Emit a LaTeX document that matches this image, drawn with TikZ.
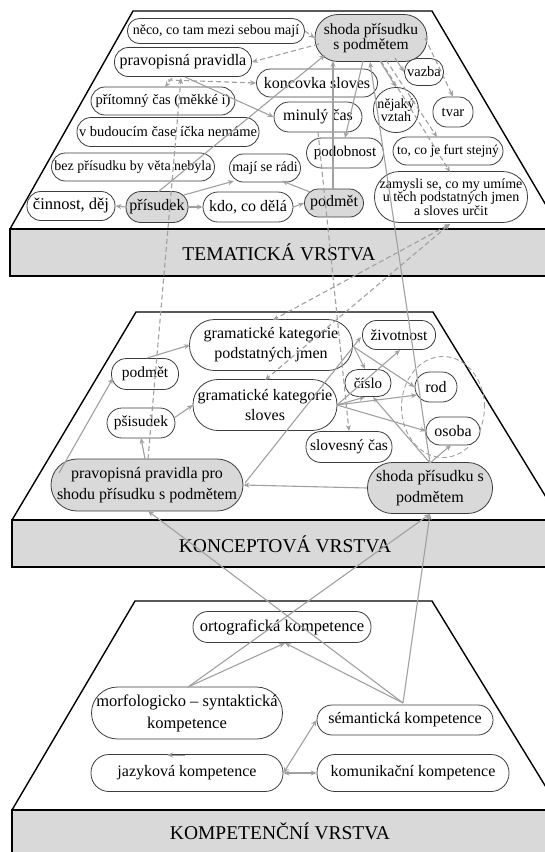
\documentclass[tikz,border=0pt]{standalone}
\usepackage{fontspec}
\setmainfont{Liberation Serif}
\usetikzlibrary{calc,arrows.meta,shapes.geometric}

\definecolor{edgegray}{RGB}{160,160,160}
\definecolor{bandgray}{RGB}{217,217,217}
\definecolor{nodeline}{RGB}{60,60,60}

\newcommand{\fs}[2]{\fontsize{#1}{#2}\selectfont}

\tikzset{
  concept/.style n args={3}{draw=nodeline, line width=0.8pt, fill=white, inner sep=0pt,
    align=center, minimum width=#1pt, minimum height=#2pt, rounded corners=#3pt},
  keyconcept/.style n args={3}{concept={#1}{#2}{#3}, fill=bandgray},
  link/.style={draw=edgegray, line width=1.1pt, -{Stealth[length=6pt,width=5pt]}},
  dlink/.style={link, dash pattern=on 5pt off 3pt},
  layeredge/.style={draw=black, line width=1.4pt},
  band/.style={draw=black, line width=1.6pt, fill=bandgray},
  bandlabel/.style={font=\fs{19.5}{22}},
}

\begin{document}
\begin{tikzpicture}[x=1pt,y=-1pt]
\useasboundingbox (0,0) rectangle (545,852);

% ---------- layers ----------
\draw[layeredge] (10,229) -- (133,11) -- (432,11) -- (560,229);
\draw[band] (10,229) rectangle (600,276);
\node[bandlabel] (tema) at (279,252) {TEMATICKÁ VRSTVA};

\draw[layeredge] (12,520) -- (136,312) -- (433,312) -- (560,520);
\draw[band] (12,520) rectangle (600,567);
\node[bandlabel] (konc) at (285,544) {KONCEPTOVÁ VRSTVA};

\draw[layeredge] (12,810) -- (135,601) -- (432,601) -- (560,810);
\draw[band] (12,810) rectangle (600,900);
\node[bandlabel] (komp) at (280,831) {KOMPETENČNÍ VRSTVA};

% ---------- thematic layer ----------
\node[concept={177}{25}{12}, font=\fs{14}{15}] (neco) at (216,31) {něco, co tam mezi sebou mají};
\node[keyconcept={112}{47}{23}, font=\fs{15.5}{15}] (shT) at (371,38) {shoda přísudku\\s podmětem};
\node[concept={137}{29}{14}, font=\fs{16}{17}] (pravT) at (183,62) {pravopisná pravidla};
\node[concept={121}{28}{14}, font=\fs{16}{17}] (koncovka) at (317,83) {koncovka sloves};
\node[concept={39}{27}{13}, font=\fs{14.5}{15}] (vazba) at (424,72) {vazba};
\node[concept={45}{45}{22}, font=\fs{14}{13}] (nejaky) at (396,110) {nějaký\\vztah};
\node[concept={40}{30}{14}, font=\fs{14.5}{15}] (tvar) at (453,112) {tvar};
\node[concept={144}{28}{14}, font=\fs{14.5}{15}] (prit) at (163,101) {přítomný čas (měkké i)};
\node[concept={88}{30}{15}, font=\fs{16}{17}] (minuly) at (318,117) {minulý čas};
\node[concept={182}{29}{14}, font=\fs{14.5}{15}] (vbud) at (168,132) {v budoucím čase íčka nemáme};
\node[concept={77}{30}{15}, font=\fs{15}{16}] (podob) at (345,153) {podobnost};
\node[concept={110}{28}{14}, font=\fs{13.5}{14}] (tocoje) at (448,151) {to, co je furt stejný};
\node[concept={163}{28}{14}, font=\fs{14}{15}] (bez) at (133,167) {bez přísudku by věta nebyla};
\node[concept={71}{28}{14}, font=\fs{14}{15}] (maji) at (265,168) {mají se rádi};
\node[concept={153}{51}{25}, font=\fs{14}{13.5}] (zamysli) at (451,197) {zamysli se, co my umíme\\u těch podstatných jmen\\a sloves určit};
\node[concept={88}{29}{14}, font=\fs{16.5}{17}] (cinnost) at (71,206) {činnost, děj};
\node[keyconcept={62}{31}{15}, font=\fs{16}{17}] (prisT) at (157,207) {přísudek};
\node[concept={90}{30}{15}, font=\fs{16}{17}] (kdo) at (248,207) {kdo, co dělá};
\node[keyconcept={59}{28}{14}, font=\fs{16}{17}] (podmT) at (334,203) {podmět};

% ---------- conceptual layer ----------
\node[draw=edgegray, line width=0.9pt, dash pattern=on 5pt off 3pt, ellipse,
      minimum width=83pt, minimum height=101pt, inner sep=0pt] (grp) at (443,407) {};
\node[concept={163}{51}{25}, font=\fs{16}{20}] (gkPJ) at (271,345) {gramatické kategorie\\podstatných jmen};
\node[concept={73}{29}{14}, font=\fs{15.5}{16}] (zivot) at (399,335) {životnost};
\node[concept={67}{31}{15}, font=\fs{15.5}{16}] (podmM) at (145,374) {podmět};
\node[concept={144}{51}{25}, font=\fs{16}{20}] (gkS) at (265,405) {gramatické kategorie\\sloves};
\node[concept={46}{27}{13}, font=\fs{15}{16}] (cislo) at (368,383) {číslo};
\node[concept={42}{30}{15}, font=\fs{16}{17}] (rod) at (436,387) {rod};
\node[concept={68}{30}{15}, font=\fs{15.5}{16}] (psis) at (141,423) {pšisudek};
\node[concept={54}{28}{14}, font=\fs{16}{17}] (osoba) at (453,431) {osoba};
\node[concept={86}{31}{15}, font=\fs{15.5}{16}] (slov) at (349,447) {slovesný čas};
\node[keyconcept={192}{52}{26}, font=\fs{16}{21}] (pravM) at (147,485) {pravopisná pravidla pro\\shodu přísudku s podmětem};
\node[keyconcept={125}{51}{25}, font=\fs{16}{21}] (shM) at (430,488) {shoda přísudku s\\podmětem};

% ---------- competence layer ----------
\node[concept={178}{31}{15}, font=\fs{16.5}{17}] (orto) at (282,627) {ortografická kompetence};
\node[concept={191}{52}{26}, font=\fs{16.5}{22}] (morf) at (187,713) {morfologicko – syntaktická\\kompetence};
\node[concept={176}{30}{15}, font=\fs{16}{17}] (sem) at (405,720) {sémantická kompetence};
\node[concept={192}{37}{18}, font=\fs{16}{17}] (jaz) at (187,773) {jazyková kompetence};
\node[concept={192}{37}{18}, font=\fs{16}{17}] (kom) at (413,773) {komunikační kompetence};

% ---------- thematic links ----------
\draw[link] (prisT.west) -- (cinnost.east);
\draw[link] (prisT.east) -- (kdo.west);
\draw[link] ($(prisT)+(27,-12)$) -- ($(maji)+(-31,13)$);
\draw[link] ($(prisT)+(1,-15)$) -- ($(shT)+(-46,17)$);
\draw[link] (kdo.east) -- (podmT.west);
\draw[link] ($(podmT)+(-24,-11)$) -- ($(maji)+(17,13)$);
\draw[link] ($(podmT)+(-1,-14)$) -- ($(shT)+(-38,23)$);
\draw[link] ($(pravT)+(2,15)$) -- (minuly.west);
\draw[link] ($(shT)+(-8,23)$) -- ($(podob)+(0,-15)$);
\draw[link] ($(shT)+(24,20)$) -- (vazba.west);
\draw[link] ($(shT)+(9,23)$) -- (nejaky.north);

\draw[dlink] (neco.east) -- (shT.west);
\draw[dlink] ($(shT)+(-52,6)$) -- (pravT.east);
\draw[dlink] ($(pravT)+(-15,18)$) -- (koncovka.west);
\draw[dlink] ($(pravT)+(-11,16)$) -- ($(prit)+(2,-14)$);
\draw[dlink] ($(shT)+(54,0)$) -- (tvar.north);
\draw[dlink] ($(shT)+(15,22)$) -- ($(tocoje)+(-11,-14)$);
\draw[dlink] ($(shT)+(10,23)$) -- ($(zamysli)+(-1,-25)$);

% ---------- links between layers ----------
\draw[link] ($(shM)+(0,-25)$) -- ($(shT)+(-1,24)$);
\draw[dlink] ($(minuly)+(0,15)$) -- (slov.north);
\draw[dlink] ($(pravM)+(1,-26)$) -- ($(pravT)+(-2,16)$);
\draw[dlink, {Stealth[length=6pt,width=5pt]}-{Stealth[length=6pt,width=5pt]}] ($(zamysli)+(-1,27)$) -- ($(gkPJ)+(2,-25)$);
\draw[dlink, {Stealth[length=6pt,width=5pt]}-{Stealth[length=6pt,width=5pt]}] ($(zamysli)+(-1,27)$) -- ($(gkS)+(0,-25)$);

% ---------- conceptual links ----------
\draw[link] ($(pravM)+(-88,-12)$) -- ($(podmM)+(-32,4)$);
\draw[link] ($(pravM)+(-2,-26)$) -- ($(psis)+(0,15)$);
\draw[link] ($(podmM)+(2,-16)$) -- ($(gkPJ)+(-81,0)$);
\draw[link] ($(psis)+(33,-5)$) -- ($(gkS)+(-72,0)$);
\draw[link] ($(gkPJ)+(83,2)$) -- ($(cislo)+(-3,-14)$);
\draw[link] ($(gkPJ)+(83,2)$) -- (rod.west);
\draw[link] ($(gkS)+(72,0)$) -- ($(zivot)+(1,15)$);
\draw[link] ($(gkS)+(72,0)$) -- ($(cislo)+(-3,14)$);
\draw[link] ($(gkS)+(72,0)$) -- ($(rod)+(-19,8)$);
\draw[link] ($(gkS)+(72,0)$) -- ($(osoba)+(-27,0)$);
\draw[link] (shM.west) -- (pravM.east);
\draw[link] ($(pravM)+(98,-2)$) -- ($(zivot)+(-38,2)$);
\draw[link] ($(shM)+(0,-25)$) -- ($(cislo)+(5,14)$);
\draw[link] ($(shM)+(0,-25)$) -- ($(osoba)+(-2,14)$);

% ---------- competence links ----------
\draw[link] ($(morf)+(1,-26)$) -- ($(orto)+(3,16)$);
\draw[link] ($(sem)+(-2,-17)$) -- ($(orto)+(3,16)$);
\draw[link] ($(sem)+(-2,-17)$) -- ($(pravM)+(1,26)$);
\draw[link] ($(sem)+(-2,-17)$) -- ($(shM)+(0,26)$);
\draw[link] ($(morf)+(1,-26)$) -- ($(shM)+(0,26)$);
\draw[link, {Stealth[length=6pt,width=5pt]}-{Stealth[length=6pt,width=5pt]}] (jaz.east) -- (sem.west);
\draw[link, {Stealth[length=6pt,width=5pt]}-{Stealth[length=6pt,width=5pt]}] (jaz.east) -- (kom.west);
\draw[link, line width=0.8pt] ($(jaz)+(-2,-18)$) -- ($(jaz)+(-20,-18)$);
\end{tikzpicture}
\end{document}
